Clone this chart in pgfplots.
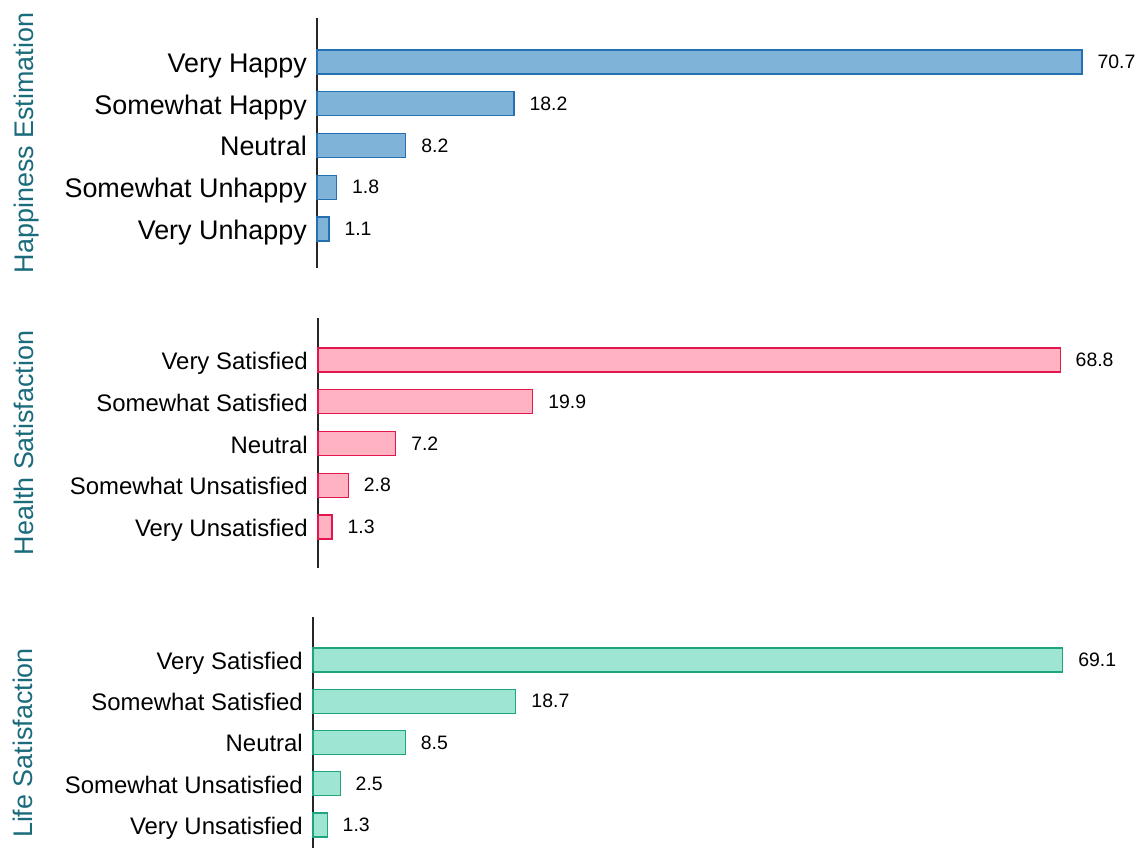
\documentclass[border=0pt]{standalone}
\usepackage{fontspec}
\setmainfont{Liberation Sans}
\usepackage{pgfplots}
\pgfplotsset{compat=1.18}
\definecolor{bluefill}{HTML}{7FB3D8}
\definecolor{blueedge}{HTML}{2470B2}
\definecolor{pinkfill}{HTML}{FFB3C2}
\definecolor{pinkedge}{HTML}{E2174B}
\definecolor{greenfill}{HTML}{9FE5D4}
\definecolor{greenedge}{HTML}{1FA57D}
\definecolor{titlecol}{HTML}{1A6B7C}
\pgfplotsset{
  panel/.style={
    scale only axis, xbar, xmin=0, xmax=75, clip=false,
    axis x line=none, axis y line=left,
    y axis line style={-, line width=1.1bp, black!85},
    ytick={0,1,2,3,4}, major tick length=0pt,
    bar width=24bp,
    point meta=explicit symbolic,
    nodes near coords,
    every node near coord/.append style={anchor=west, inner sep=0pt, xshift=15bp, font=\fontsize{19.5}{22}\selectfont, text=black},
    yticklabel style={anchor=base east, inner sep=0pt, xshift=-10bp, text=black},
  }
}
\begin{document}
\begin{tikzpicture}
\useasboundingbox (0,0) rectangle (1136bp,848bp);
% Panel 1
\begin{axis}[panel, at={(317bp,580bp)}, anchor=south west,
  width=811.5bp, height=250bp, ymin=-0.934, ymax=5.054,
  yticklabels={Very Unhappy,Somewhat Unhappy,Neutral,Somewhat Happy,Very Happy},
  yticklabel style={font=\fontsize{27}{32}\selectfont, yshift=-10.3bp}]
\addplot[fill=bluefill, draw=blueedge, line width=1.2bp] coordinates {
  (1.1,0) [1.1]
  (1.8,1) [1.8]
  (8.2,2) [8.2]
  (18.2,3) [18.2]
  (70.7,4) [70.7]
};
\end{axis}
% Panel 2
\begin{axis}[panel, at={(318bp,280bp)}, anchor=south west,
  width=809bp, height=250bp, ymin=-0.98, ymax=5.006,
  yticklabels={Very Unsatisfied,Somewhat Unsatisfied,Neutral,Somewhat Satisfied,Very Satisfied},
  yticklabel style={font=\fontsize{24}{28}\selectfont, yshift=-9.5bp}]
\addplot[fill=pinkfill, draw=pinkedge, line width=1.2bp] coordinates {
  (1.3,0) [1.3]
  (2.8,1) [2.8]
  (7.2,2) [7.2]
  (19.9,3) [19.9]
  (68.8,4) [68.8]
};
\end{axis}
% Panel 3
\begin{axis}[panel, at={(313bp,-22bp)}, anchor=south west,
  width=813.75bp, height=253bp, ymin=-1.09, ymax=5.04,
  yticklabels={Very Unsatisfied,Somewhat Unsatisfied,Neutral,Somewhat Satisfied,Very Satisfied},
  yticklabel style={font=\fontsize{24}{28}\selectfont, yshift=-9.5bp}]
\addplot[fill=greenfill, draw=greenedge, line width=1.2bp] coordinates {
  (1.3,0) [1.3]
  (2.5,1) [2.5]
  (8.5,2) [8.5]
  (18.7,3) [18.7]
  (69.1,4) [69.1]
};
\end{axis}
\node[rotate=90, anchor=base, inner sep=0pt, text=titlecol, font=\fontsize{27}{32}\selectfont] at (33bp,705bp) {Happiness Estimation};
\node[rotate=90, anchor=base, inner sep=0pt, text=titlecol, font=\fontsize{27}{32}\selectfont] at (33bp,405bp) {Health Satisfaction};
\node[rotate=90, anchor=base, inner sep=0pt, text=titlecol, font=\fontsize{27}{32}\selectfont] at (32bp,105bp) {Life Satisfaction};
\end{tikzpicture}
\end{document}
